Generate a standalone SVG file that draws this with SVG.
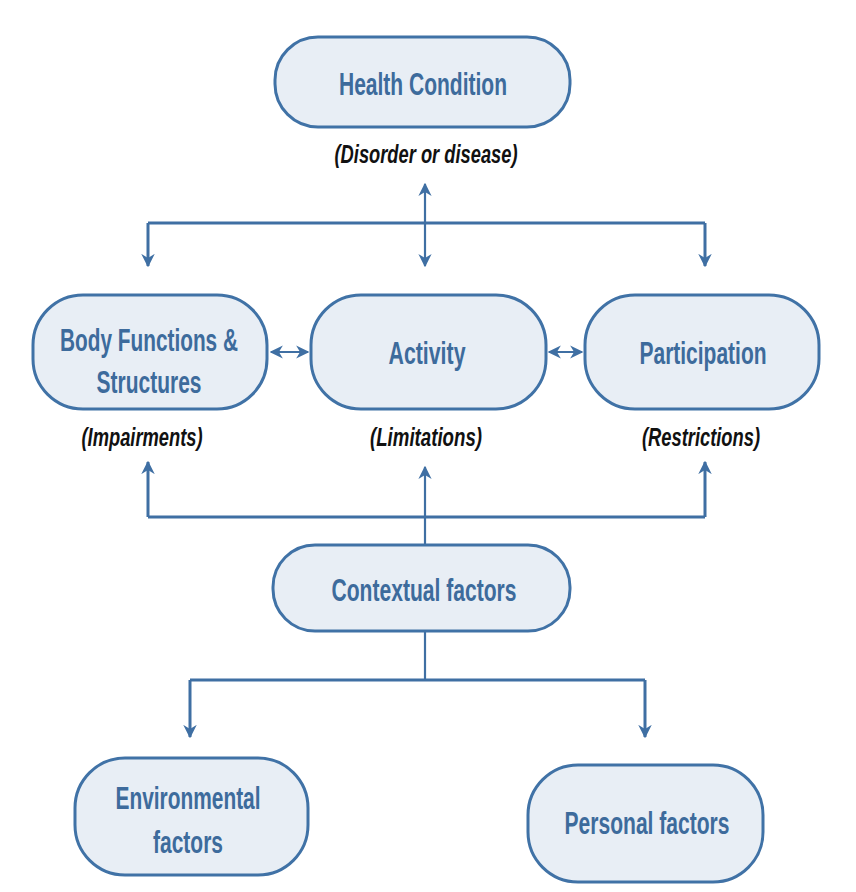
<svg xmlns="http://www.w3.org/2000/svg" width="856" height="892" viewBox="0 0 856 892">
<defs>
<marker id="ah" viewBox="0 0 10 10" refX="9" refY="5" markerWidth="4.5" markerHeight="4.5" orient="auto-start-reverse" markerUnits="strokeWidth">
<path d="M0,0 L10,5 L0,10 L3,5 Z" fill="#3f6fa3"/>
</marker>
<marker id="ah2" viewBox="0 0 10 10" refX="9" refY="5" markerWidth="6" markerHeight="6" orient="auto-start-reverse" markerUnits="strokeWidth">
<path d="M0,0 L10,5 L0,10 L3,5 Z" fill="#3f6fa3"/>
</marker>
</defs>
<style>
.box{fill:#e8eef5;stroke:#4072a6;stroke-width:3}
.t{font-family:"Liberation Sans Narrow","Liberation Sans",Arial,sans-serif;font-weight:bold;font-size:31px;fill:#3d6b9c;text-anchor:middle}
.l{font-family:"Liberation Sans Narrow","Liberation Sans",Arial,sans-serif;font-weight:bold;font-style:italic;font-size:25px;fill:#111;text-anchor:middle}
.c{fill:none;stroke:#3f6fa3;stroke-width:3}
.c2{fill:none;stroke:#3f6fa3;stroke-width:2.2}
</style>
<rect width="856" height="892" fill="#ffffff"/>
<g id="connectors">
<path class="c" d="M148,223 H705"/>
<path class="c" d="M148,223 V266" marker-end="url(#ah)"/>
<path class="c" d="M705,223 V266" marker-end="url(#ah)"/>
<path class="c2" d="M425,184 V266" marker-start="url(#ah2)" marker-end="url(#ah2)"/>
<path class="c2" d="M271,352 H308" marker-start="url(#ah2)" marker-end="url(#ah2)"/>
<path class="c2" d="M549,352 H582" marker-start="url(#ah2)" marker-end="url(#ah2)"/>
<path class="c" d="M148,517 H705"/>
<path class="c" d="M148,517 V462" marker-end="url(#ah)"/>
<path class="c" d="M705,517 V462" marker-end="url(#ah)"/>
<path class="c2" d="M425,545 V467" marker-end="url(#ah2)"/>
<path class="c2" d="M425,632 V680"/>
<path class="c" d="M190,680 H645"/>
<path class="c" d="M190,680 V737" marker-end="url(#ah)"/>
<path class="c" d="M645,680 V737" marker-end="url(#ah)"/>
</g>
<g id="health">
<rect class="box" x="275" y="37" width="295" height="90" rx="43" ry="43"/>
<text class="t" x="423" y="95" textLength="168" lengthAdjust="spacingAndGlyphs">Health Condition</text>
<text class="l" x="426" y="163" textLength="183" lengthAdjust="spacingAndGlyphs">(Disorder or disease)</text>
</g>
<g id="body">
<rect class="box" x="33" y="295" width="234" height="114" rx="50" ry="50"/>
<text class="t" x="149" y="351" textLength="178" lengthAdjust="spacingAndGlyphs">Body Functions &amp;</text>
<text class="t" x="149" y="393" textLength="105" lengthAdjust="spacingAndGlyphs">Structures</text>
<text class="l" x="142" y="446" textLength="121" lengthAdjust="spacingAndGlyphs">(Impairments)</text>
</g>
<g id="activity">
<rect class="box" x="311" y="295" width="235" height="114" rx="50" ry="50"/>
<text class="t" x="427" y="364" textLength="77" lengthAdjust="spacingAndGlyphs">Activity</text>
<text class="l" x="426" y="446" textLength="112" lengthAdjust="spacingAndGlyphs">(Limitations)</text>
</g>
<g id="participation">
<rect class="box" x="585" y="295" width="234" height="114" rx="50" ry="50"/>
<text class="t" x="703" y="364" textLength="127" lengthAdjust="spacingAndGlyphs">Participation</text>
<text class="l" x="701" y="446" textLength="118" lengthAdjust="spacingAndGlyphs">(Restrictions)</text>
</g>
<g id="contextual">
<rect class="box" x="273" y="545" width="297" height="86" rx="42" ry="42"/>
<text class="t" x="424" y="601" textLength="185" lengthAdjust="spacingAndGlyphs">Contextual factors</text>
</g>
<g id="environmental">
<rect class="box" x="75" y="758" width="233" height="117" rx="50" ry="50"/>
<text class="t" x="188" y="809" textLength="145" lengthAdjust="spacingAndGlyphs">Environmental</text>
<text class="t" x="188" y="853" textLength="70" lengthAdjust="spacingAndGlyphs">factors</text>
</g>
<g id="personal">
<rect class="box" x="528" y="765" width="235" height="117" rx="50" ry="50"/>
<text class="t" x="647" y="834" textLength="165" lengthAdjust="spacingAndGlyphs">Personal factors</text>
</g>
</svg>
